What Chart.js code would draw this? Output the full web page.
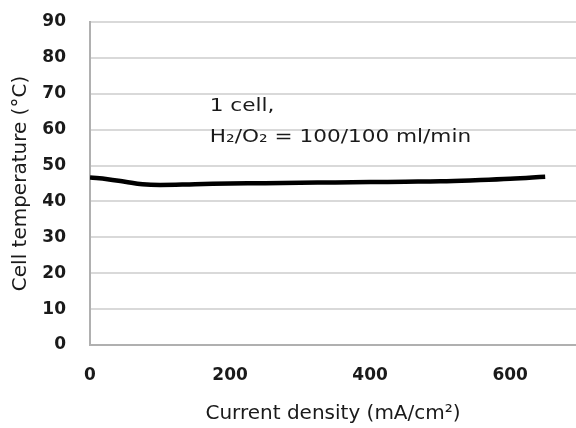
<!DOCTYPE html>
<html><head><meta charset="utf-8">
<script src="https://cdn.jsdelivr.net/npm/chart.js@4/dist/chart.umd.min.js"></script>
<style>html,body{margin:0;padding:0;background:#fff;overflow:hidden}#wrap{width:576px;height:428px}</style>
</head><body><div id="wrap"><canvas id="c" width="576" height="428"></canvas></div>
<script>
const currentDensity = [0, 25, 50, 75, 100, 150, 200, 250, 300, 350, 400, 450, 500, 550, 600, 650];
const cellTemperature = [46.7, 46.2, 45.5, 44.8, 44.6, 44.8, 45.0, 45.1, 45.2, 45.3, 45.4, 45.5, 45.6, 45.9, 46.3, 46.9];
const yTicks = [0, 10, 20, 30, 40, 50, 60, 70, 80, 90];
const xTicks = [0, 200, 400, 600];
const noteLines = ["1 cell,", "H\u2082/O\u2082 = 100/100 ml/min"];
const noteAt = {x: 171, y: 66.5};

const FONT = "'DejaVu Sans', sans-serif";

const notePlugin = {
  id: 'note',
  afterDatasetsDraw(chart) {
    const ctx = chart.ctx;
    const xs = chart.scales.x, ys = chart.scales.y;
    const px = xs.getPixelForValue(noteAt.x), py = ys.getPixelForValue(noteAt.y);
    ctx.save();
    ctx.translate(px, py);
    ctx.scale(1.2, 1);
    ctx.fillStyle = '#1a1a1a';
    ctx.font = "18px " + FONT;
    ctx.textBaseline = 'middle';
    ctx.textAlign = 'left';
    noteLines.forEach((t, i) => ctx.fillText(t, 0, i * 31));
    ctx.restore();
  }
};

new Chart(document.getElementById('c'), {
  type: 'line',
  data: {
    datasets: [{
      data: currentDensity.map((x, i) => ({x, y: cellTemperature[i]})),
      borderColor: '#000',
      borderWidth: 4.5,
      pointRadius: 0,
      tension: 0.4,
      fill: false
    }]
  },
  options: {
    responsive: false,
    animation: false,
    plugins: {legend: {display: false}, tooltip: {enabled: false}},
    layout: {autoPadding: false, padding: {left: 9, top: 22, right: 0, bottom: 2}},
    scales: {
      x: {
        type: 'linear', min: 0, max: 694,
        afterBuildTicks: s => { s.ticks = xTicks.map(v => ({value: v})); },
        afterFit: s => { s.height = 81; s.paddingLeft = 0; s.paddingRight = 0; },
        grid: {display: false, drawTicks: false},
        border: {display: true, color: '#b0b0b0', width: 2},
        ticks: {color: '#1a1a1a', font: {size: 17, family: FONT, weight: 'bold'}, padding: 20, maxRotation: 0},
        title: {display: true, text: 'Current density (mA/cm\u00b2)', color: '#1a1a1a', font: {size: 20, family: FONT}, padding: {top: 11, bottom: 0}}
      },
      y: {
        min: 0, max: 90,
        afterBuildTicks: s => { s.ticks = yTicks.map(v => ({value: v})); },
        afterFit: s => { s.width = 81; s.paddingTop = 0; s.paddingBottom = 0; },
        grid: {color: '#d9d9d9', lineWidth: 2, drawTicks: false},
        border: {display: true, color: '#b0b0b0', width: 2},
        ticks: {color: '#1a1a1a', font: {size: 17, family: FONT, weight: 'bold'}, padding: 24},
        title: {display: true, text: 'Cell temperature (\u00b0C)', color: '#1a1a1a', font: {size: 20, family: FONT}, padding: {top: 0, bottom: 2}}
      }
    }
  },
  plugins: [notePlugin]
});
</script></body></html>
